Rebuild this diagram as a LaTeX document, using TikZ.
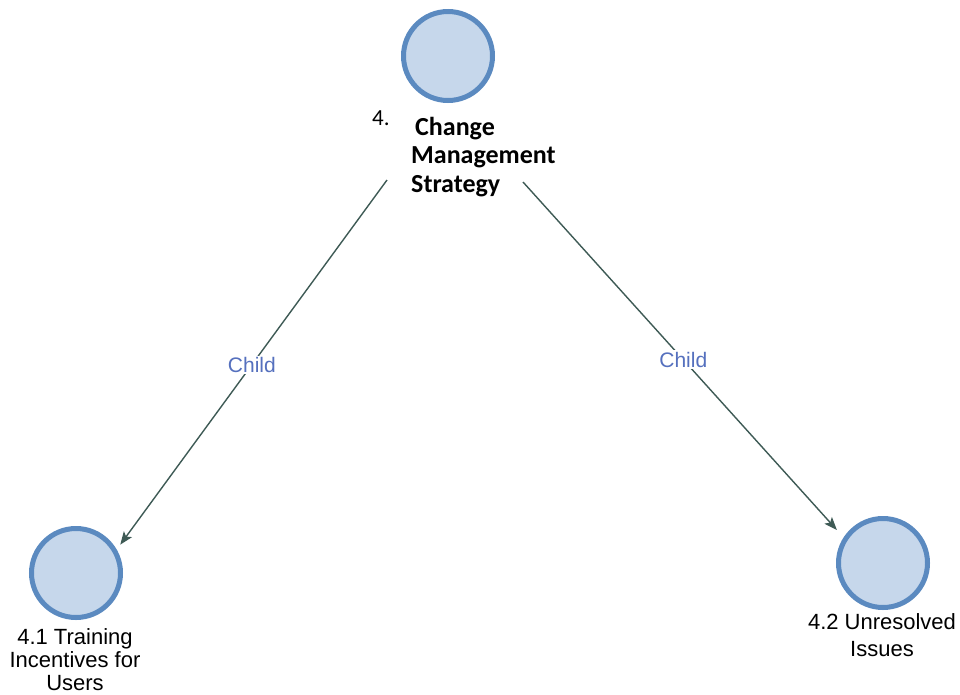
\documentclass[tikz,border=0pt]{standalone}
\usepackage{fontspec}
\setmainfont{Liberation Sans}
\newfontfamily\calibri{Carlito}
\usetikzlibrary{arrows.meta}
\definecolor{ringblue}{HTML}{5B8AC0}
\definecolor{discfill}{HTML}{C6D7EB}
\definecolor{edgegray}{HTML}{3E5A55}
\definecolor{childblue}{HTML}{5570BE}
\begin{document}
\begin{tikzpicture}[x=1pt,y=-1pt,
  topic/.style={circle, draw=ringblue, fill=discfill, line width=5pt,
    minimum size=89pt, inner sep=0pt},
  link/.style={draw=edgegray, line width=1.4pt,
    -{Stealth[length=13pt,width=10pt,inset=3pt]}},
  linklabel/.style={fill=white, text=childblue, inner sep=1.5pt,
    font=\fontsize{21}{21}\selectfont},
  caption/.style={inner sep=0pt, align=center, anchor=base},
  boldcaption/.style={inner sep=0pt, align=left, anchor=base west,
    font=\calibri\bfseries\fontsize{26}{28.5}\selectfont}]
\useasboundingbox (0,0) rectangle (960,694);

% topic discs
\node[topic] (root)  at (448,56)  {};
\node[topic] (train) at (76,573)  {};
\node[topic] (issue) at (883,563) {};

% captions (base anchor sits on the last line)
\node[inner sep=0pt, anchor=base west, font=\calibri\fontsize{23}{23}\selectfont]
  (rootnum) at (372,125) {4.};
\node[boldcaption] (rootcap) at (411,192)
  {\hspace{4pt}Change\\Management\\Strategy};
\node[caption, font=\fontsize{22}{23}\selectfont] (traincap) at (75,690)
  {4.1 Training\\Incentives for\\Users};
\node[caption, font=\fontsize{22}{27}\selectfont] (issuecap) at (882,656)
  {4.2 Unresolved\\Issues};

% connector start points below the root caption
\coordinate (lstart) at (387,180);
\coordinate (rstart) at (523,182);

% child links
\draw[link, shorten >=6pt] (lstart) -- (train.30)
  node[linklabel, pos=0.5] (lchild) {Child};
\draw[link, shorten >=10pt] (rstart) -- (issue.147)
  node[linklabel, pos=0.5] (rchild) {Child};
\end{tikzpicture}
\end{document}
